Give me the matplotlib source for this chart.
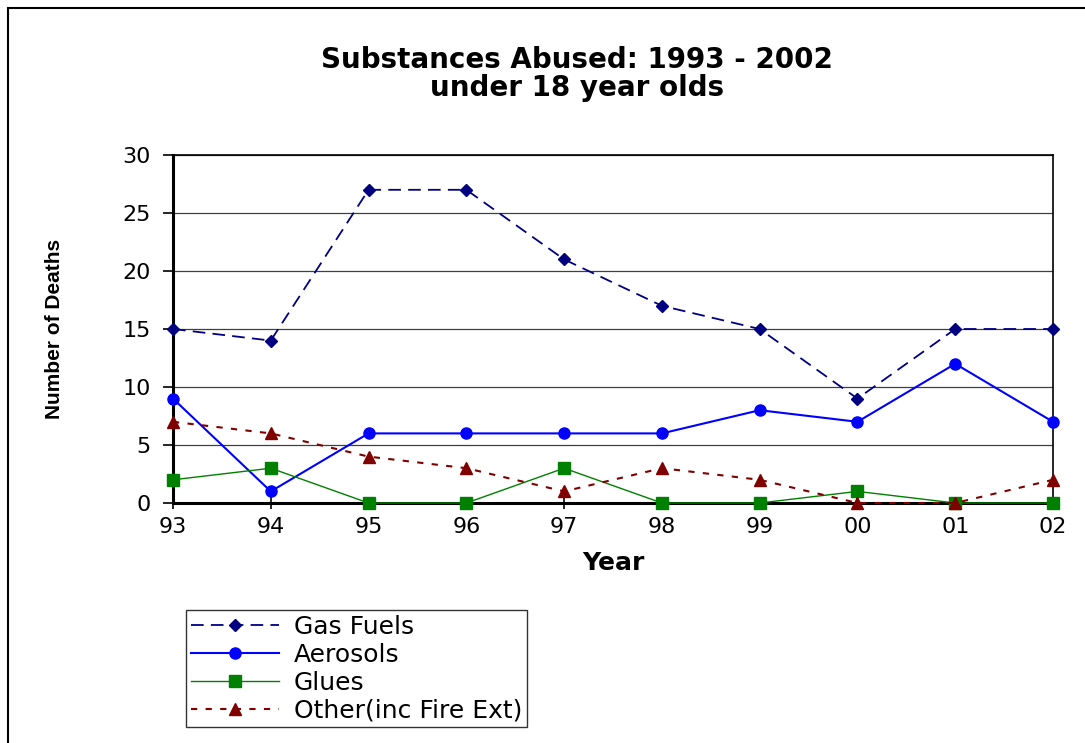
#!/usr/bin/env python3
"""Deaths from substance abuse among under 18s, 1993-2002, by substance type."""

import matplotlib.pyplot as plt
from matplotlib.patches import Rectangle

years = ['93', '94', '95', '96', '97', '98', '99', '00', '01', '02']
gas_fuels = [15, 14, 27, 27, 21, 17, 15, 9, 15, 15]
aerosols = [9, 1, 6, 6, 6, 6, 8, 7, 12, 7]
glues = [2, 3, 0, 0, 3, 0, 0, 1, 0, 0]
other = [7, 6, 4, 3, 1, 3, 2, 0, 0, 2]

plt.rcParams['font.family'] = ['DejaVu Sans']

fig = plt.figure(figsize=(10.85, 7.43), dpi=100)
ax = fig.add_axes([173 / 1085, 1 - 503 / 743, 880 / 1085, 348 / 743])

x = list(range(len(years)))
ax.plot(x, gas_fuels, color='#000080', linestyle=(0, (7, 4)), linewidth=1.3,
        marker='D', markersize=6, label='Gas Fuels', zorder=4, clip_on=False)
ax.plot(x, aerosols, color='#0000FF', linestyle='-', linewidth=1.5,
        marker='o', markersize=8, label='Aerosols', zorder=4, clip_on=False)
ax.plot(x, glues, color='#008000', linestyle='-', linewidth=1.0,
        marker='s', markersize=8, label='Glues', zorder=4, clip_on=False)
ax.plot(x, other, color='#800000', linestyle=(0, (3, 4)), linewidth=1.5,
        marker='^', markersize=8, label='Other(inc Fire Ext)', zorder=5, clip_on=False)

ax.set_xlim(0, len(years) - 1)
ax.set_ylim(0, 30)
ax.set_yticks(range(0, 31, 5))
ax.set_xticks(x)
ax.set_xticklabels(years)
ax.yaxis.grid(True, color='#404040', linewidth=0.9)
ax.set_axisbelow(True)
for side in ('left', 'bottom'):
    ax.spines[side].set_linewidth(2.2)
for side in ('top', 'right'):
    ax.spines[side].set_linewidth(1.2)
ax.tick_params(axis='both', labelsize=16, width=1.2)
ax.tick_params(axis='y', direction='out', length=7, pad=9)
ax.tick_params(axis='x', direction='inout', length=8, pad=6)

ax.set_xlabel('Year', fontsize=18, fontweight='bold', labelpad=10)
ax.set_ylabel('Number of Deaths', fontsize=15, fontweight='bold', labelpad=42,
              family='Liberation Sans')

fig.text(577 / 1085, 1 - 60 / 743, 'Substances Abused: 1993 - 2002',
         fontsize=20, fontweight='bold', ha='center', va='center')
fig.text(577 / 1085, 1 - 88 / 743, 'under 18 year olds',
         fontsize=20, fontweight='bold', ha='center', va='center')

leg = fig.legend(loc='upper left', bbox_to_anchor=(186 / 1085, 1 - 610 / 743),
                 fontsize=18, frameon=True, fancybox=False, edgecolor='black',
                 handlelength=3.5, labelspacing=0.15, borderpad=0.2,
                 handletextpad=0.6, borderaxespad=0)
leg.get_frame().set_linewidth(1.0)

# outer chart frame
fig.patches.append(Rectangle((8 / 1085, -0.05), 1.2, 1 - 8 / 743 + 0.05,
                             transform=fig.transFigure, fill=False,
                             edgecolor='black', linewidth=1.5))

fig.savefig('out.png', dpi=100)
